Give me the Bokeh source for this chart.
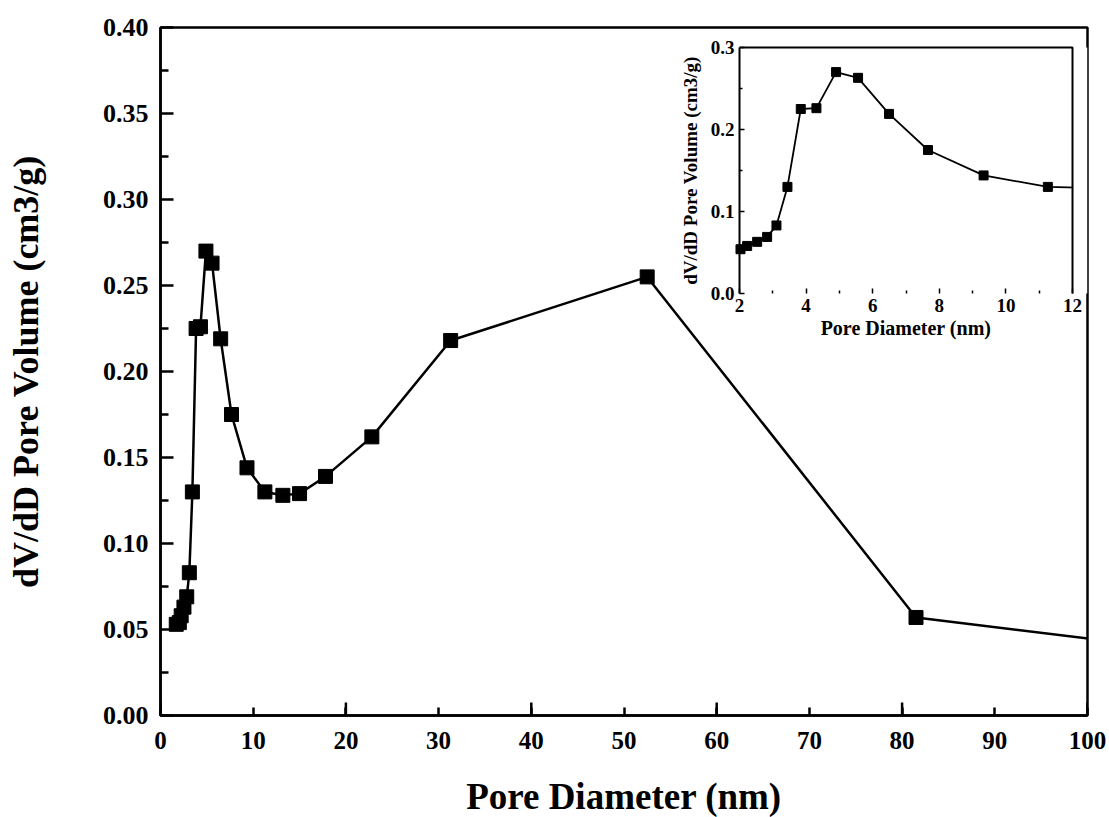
from bokeh.plotting import figure
from bokeh.models import Range1d, LinearAxis, FixedTicker, PrintfTickFormatter
from bokeh.embed import file_html
from bokeh.resources import INLINE

# ---- data ----
pore_diameter = [1.7, 2.03, 2.23, 2.53, 2.83, 3.11, 3.44, 3.84, 4.31, 4.90, 5.56,
                 6.49, 7.66, 9.33, 11.26, 13.2, 15.0, 17.8, 22.8, 31.3, 52.5, 81.5, 118.0]
dv_dd = [0.053, 0.054, 0.058, 0.063, 0.069, 0.083, 0.130, 0.225, 0.226, 0.270, 0.263,
         0.219, 0.175, 0.144, 0.130, 0.128, 0.129, 0.139, 0.162, 0.218, 0.255, 0.057, 0.033]

x_ticks = [0, 10, 20, 30, 40, 50, 60, 70, 80, 90, 100]
x_long_ticks = [0, 20, 40, 60, 80, 100]
y_ticks = [0.00, 0.05, 0.10, 0.15, 0.20, 0.25, 0.30, 0.35, 0.40]
y_minor = [0.025, 0.075, 0.125, 0.175, 0.225, 0.275, 0.325, 0.375]

inset_x_ticks = [2, 4, 6, 8, 10, 12]
inset_x_minor = [3, 5, 7, 9, 11]
inset_y_ticks = [0.0, 0.1, 0.2, 0.3]
inset_y_minor = [0.05, 0.15, 0.25]

FONT = "Liberation Serif"
INK = "black"

# ---- layout constants (pixels) ----
FW, FH = 927, 688
IN_L, IN_R, IN_T, IN_B = 579, 912, 20, 266   # inset box inside main frame
LONG_TICK_PX = 13

X0, X1 = 0, 100
Y0, Y1 = 0, 0.40

p = figure(frame_width=FW, frame_height=FH, x_range=(X0, X1), y_range=(Y0, Y1),
           output_backend="svg", toolbar_location=None,
           min_border_left=160, min_border_right=22, min_border_top=27, min_border_bottom=102)
p.grid.visible = False
p.outline_line_color = INK
p.outline_line_width = 2.5
p.background_fill_color = "white"
p.border_fill_color = "white"

label_style = dict(major_label_text_font=FONT, major_label_text_font_style="bold",
                   major_label_text_color=INK)

xa = p.xaxis[0]
xa.ticker = FixedTicker(ticks=x_ticks, minor_ticks=[])
xa.major_tick_in = 8
xa.major_tick_out = 0
xa.minor_tick_in = 0
xa.minor_tick_out = 0
xa.axis_line_width = 2.5
xa.major_tick_line_width = 2.5
xa.major_label_text_font = FONT
xa.major_label_text_font_style = "bold"
xa.major_label_text_color = INK
xa.major_label_text_font_size = "25px"
xa.major_label_standoff = 16
xa.axis_label = "Pore Diameter (nm)"
xa.axis_label_text_font = FONT
xa.axis_label_text_font_style = "bold"
xa.axis_label_text_color = INK
xa.axis_label_text_font_size = "37px"
xa.axis_label_standoff = 24

# longer ticks every 20 nm
long_len = LONG_TICK_PX * (Y1 - Y0) / FH
p.segment(x0=x_long_ticks, y0=[Y0] * len(x_long_ticks), x1=x_long_ticks,
          y1=[Y0 + long_len] * len(x_long_ticks), line_color=INK, line_width=2.5)

ya = p.yaxis[0]
ya.ticker = FixedTicker(ticks=y_ticks, minor_ticks=y_minor)
ya.formatter = PrintfTickFormatter(format="%.2f")
ya.major_tick_in = 13
ya.major_tick_out = 0
ya.minor_tick_in = 8
ya.minor_tick_out = 0
ya.axis_line_width = 2.5
ya.major_tick_line_width = 2.5
ya.minor_tick_line_width = 2.5
ya.major_label_text_font = FONT
ya.major_label_text_font_style = "bold"
ya.major_label_text_color = INK
ya.major_label_text_font_size = "26px"
ya.major_label_standoff = 12
ya.axis_label = "dV/dD Pore Volume (cm3/g)"
ya.axis_label_text_font = FONT
ya.axis_label_text_font_style = "bold"
ya.axis_label_text_color = INK
ya.axis_label_text_font_size = "36px"
ya.axis_label_standoff = 54

# main curve
p.line(pore_diameter, dv_dd, line_color=INK, line_width=2.5)
p.scatter(pore_diameter, dv_dd, marker="square", size=14, fill_color=INK, line_color=INK)

# ---- inset via extra ranges ----
ix0, ix1 = inset_x_ticks[0], inset_x_ticks[-1]
iy0, iy1 = inset_y_ticks[0], inset_y_ticks[-1]
sx = (IN_R - IN_L) / (ix1 - ix0)
sy = (IN_B - IN_T) / (iy1 - iy0)
p.extra_x_ranges = {"ix": Range1d(ix0 - IN_L / sx, ix1 + (FW - IN_R) / sx)}
p.extra_y_ranges = {"iy": Range1d(iy0 - (FH - IN_B) / sy, iy1 + IN_T / sy)}

inset_x = [x for x in pore_diameter if ix0 <= x <= 14]
inset_y = [y for x, y in zip(pore_diameter, dv_dd) if ix0 <= x <= 14]
inset_mx = [x for x in inset_x if x <= ix1]
inset_my = [y for x, y in zip(inset_x, inset_y) if x <= ix1]

p.line(inset_x, inset_y, line_color=INK, line_width=1.8, x_range_name="ix", y_range_name="iy")
p.scatter(inset_mx, inset_my, marker="square", size=9, fill_color=INK, line_color=INK,
          x_range_name="ix", y_range_name="iy")
# mask the part of the inset curve right of the inset box
p.quad(left=[ix1 + 0.02], right=[p.extra_x_ranges["ix"].end], bottom=[iy0], top=[iy1],
       fill_color="white", line_color=None, x_range_name="ix", y_range_name="iy")
# inset box (top and right sides)
p.line([ix0, ix1, ix1], [iy1, iy1, iy0], line_color=INK, line_width=2,
       x_range_name="ix", y_range_name="iy")

iya = LinearAxis(x_range_name="ix", y_range_name="iy", fixed_location=ix0, bounds=(iy0, iy1),
                 ticker=FixedTicker(ticks=inset_y_ticks, minor_ticks=inset_y_minor),
                 formatter=PrintfTickFormatter(format="%.1f"),
                 major_tick_in=5, major_tick_out=0, minor_tick_in=3, minor_tick_out=0,
                 axis_line_width=2, major_tick_line_width=1.5, minor_tick_line_width=1.5,
                 major_label_text_font_size="19px", major_label_standoff=5,
                 axis_label="dV/dD Pore Volume (cm3/g)", axis_label_text_font=FONT,
                 axis_label_text_font_style="bold", axis_label_text_font_size="19px",
                 axis_label_text_color=INK, axis_label_standoff=7, **label_style)
p.add_layout(iya, "left")

ixa = LinearAxis(x_range_name="ix", y_range_name="iy", fixed_location=iy0, bounds=(ix0, ix1),
                 ticker=FixedTicker(ticks=inset_x_ticks, minor_ticks=inset_x_minor),
                 major_tick_in=5, major_tick_out=0, minor_tick_in=3, minor_tick_out=0,
                 axis_line_color=None, major_tick_line_width=1.5, minor_tick_line_width=1.5,
                 major_label_text_font_size="19px", major_label_standoff=5,
                 axis_label="Pore Diameter (nm)", axis_label_text_font=FONT,
                 axis_label_text_font_style="bold", axis_label_text_font_size="20px",
                 axis_label_text_color=INK, axis_label_standoff=2, **label_style)
p.add_layout(ixa, "below")

open("out.html", "w").write(file_html(p, INLINE))
